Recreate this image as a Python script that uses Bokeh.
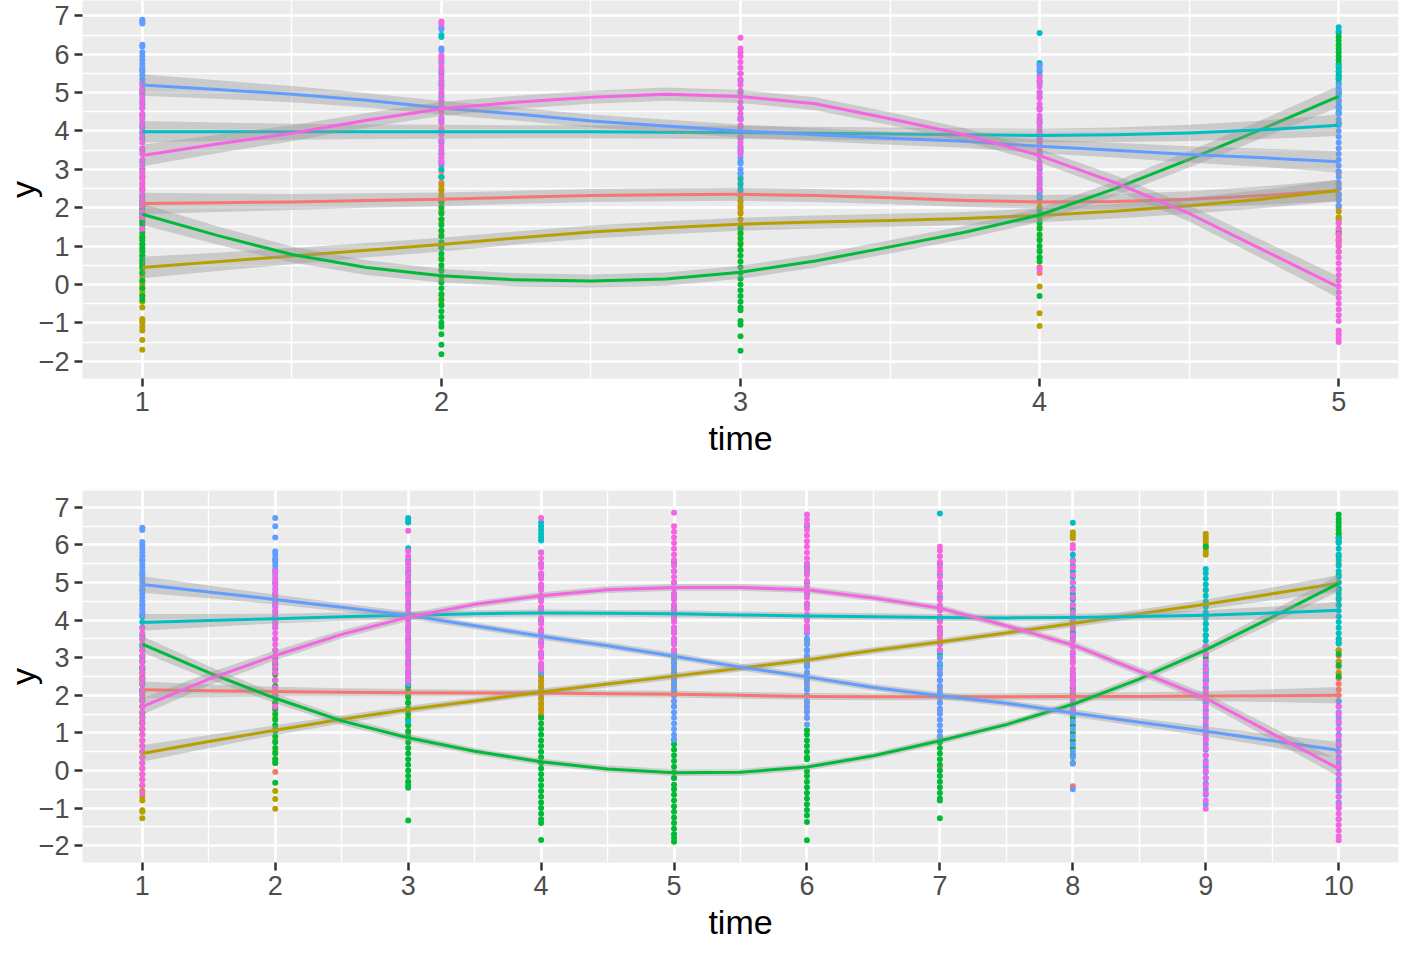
from bokeh.plotting import figure
from bokeh.layouts import column
from bokeh.models import FixedTicker, Range1d
from bokeh.embed import file_html
from bokeh.resources import INLINE

COLORS = ["#F8766D", "#B79F00", "#00BA38", "#00BFC4", "#619CFF", "#F564E3"]

# ---------------- top panel (time 1..5) ----------------
top_times = [1, 2, 3, 4, 5]
top_red_pts = [[2.9, 2.75, 2.6, 2.45, 2.3, 2.15, 2.0, 1.85, 1.7, 1.6],
               [3.1, 2.95, 2.8, 2.65, 2.5, 2.35, 2.2, 2.05, 1.9, 1.7, 1.4],
               [2.8, 2.65, 2.5, 2.35, 2.2, 2.05, 1.9],
               [2.6, 2.45, 2.3, 2.15, 2.0, 1.85, 0.45, 0.3],
               [2.9, 2.6, 2.3, 2.0, 1.7, 1.4, 1.2, 1.1]]
top_olive_pts = [[1.2, 1.05, 0.9, 0.75, 0.6, 0.5, 0.4, 0.3, 0.2, 0.1, 0.0, -0.1, -0.2, -0.3, -0.45, -0.6, -0.9, -0.95, -1.0, -1.1, -1.2, -1.45, -1.7],
                 [2.8, 2.6, 2.45, 2.3, 2.15, 1.9, 1.6, 1.3, 1.0, 0.7, 0.4, 0.1, -0.3, -0.5],
                 [2.3, 2.15, 2.0, 1.85, 1.7, 1.55, 1.45, 1.3, 1.1, 0.9],
                 [2.3, 2.15, 2.0, 1.85, 1.7, 1.5, 1.2, 0.9, 0.7, -0.05, -0.75, -1.08],
                 [2.5, 2.35, 2.2, 2.05, 1.9, 1.75, 1.6, 1.45, 1.3, 1.15, 1.0, 0.85]]
top_green_pts = [[2.2, 2.05, 1.95, 1.85, 1.75, 1.65, 1.55, 1.45, 1.35, 1.25, 1.15, 1.05, 0.95, 0.85, 0.75, 0.65, 0.55, 0.45, 0.3, 0.1, -0.1, -0.3, -0.4],
                 [2.15, 2.0, 1.85, 1.7, 1.55, 1.4, 1.25, 1.1, 0.95, 0.8, 0.65, 0.5, 0.35, 0.2, 0.05, -0.1, -0.25, -0.4, -0.55, -0.7, -0.85, -1.0, -1.1, -1.3, -1.57, -1.82],
                 [1.47, 1.35, 1.2, 1.05, 0.9, 0.75, 0.6, 0.45, 0.3, 0.15, 0.0, -0.15, -0.3, -0.45, -0.6, -0.67, -0.95, -1.05, -1.35, -1.73],
                 [1.9, 1.75, 1.6, 1.45, 1.3, 1.15, 1.0, 0.85, 0.7, 0.6, -0.3],
                 [6.55, 6.45, 6.35, 6.25, 6.15, 6.05, 5.95, 5.85, 5.75, 5.65, 5.55, 5.45, 5.35, 5.0, 4.6, 4.2, 1.35]]
top_cyan_pts = [[5.6, 5.0, 4.7, 4.4, 4.1, 3.95, 3.8, 3.5, 3.2, 3.0, 2.8, 2.5, 2.3, 2.1, 1.9],
                [6.5, 6.45, 5.8, 5.5, 5.2, 4.9, 4.6, 4.3, 4.0, 3.7, 3.4, 3.2, 3.0, 2.8],
                [5.5, 5.0, 4.6, 4.3, 4.0, 3.8, 3.5, 3.2, 2.9, 2.75, 2.6, 2.45],
                [6.55, 5.77, 5.7, 5.55, 5.3, 5.0, 4.6, 4.2, 3.8, 3.4, 3.0, 2.7, 2.4, 2.2],
                [6.7, 6.6, 5.7, 5.55, 5.4, 5.25, 5.1, 4.95, 4.8, 4.65, 4.5, 4.45]]
top_blue_pts = [[6.9, 6.85, 6.8, 6.25, 6.2, 6.05, 5.95, 5.85, 5.75, 5.65, 5.55, 5.45, 5.35, 5.25, 5.1, 4.95, 4.8, 4.6, 4.4, 4.2],
                [6.7, 6.65, 6.15, 6.1, 5.9, 5.6, 5.3, 5.0, 4.75, 4.5, 4.25, 4.0, 3.75, 3.5, 3.3, 3.15],
                [5.3, 4.9, 4.6, 4.35, 4.1, 3.85, 3.6, 3.45, 3.3, 3.15, 3.0, 2.9],
                [5.7, 5.6, 5.45, 5.25, 4.9, 4.6, 4.3, 4.0, 3.7, 3.4, 3.1, 2.8, 2.5, 2.3],
                [5.2, 5.05, 4.9, 4.75, 4.6, 4.45, 4.3, 4.15, 4.0, 3.85, 3.7, 3.55, 3.4, 3.25, 3.1, 2.95, 2.8, 2.65, 2.5, 2.35, 2.2, 2.05]]
top_magenta_pts = [[5.2, 5.05, 4.9, 4.75, 4.6, 4.45, 4.3, 4.15, 4.0, 3.85, 3.7, 3.55, 3.4, 3.25, 3.1, 2.95, 2.8, 2.65, 2.5, 2.35, 2.2, 2.05, 1.9, 1.75, 1.45],
                   [6.85, 6.8, 5.97, 5.85, 5.7, 5.55, 5.4, 5.25, 5.1, 4.95, 4.8, 4.65, 4.5, 4.35, 4.2, 4.05, 3.9, 3.75, 3.6, 3.45, 3.3, 3.2],
                   [6.43, 6.15, 6.05, 5.95, 5.8, 5.65, 5.5, 5.35, 5.2, 5.05, 4.9, 4.75, 4.6, 4.45, 4.3, 4.15, 4.0, 3.85, 3.7, 3.55, 3.4],
                   [5.4, 5.3, 5.15, 5.0, 4.85, 4.7, 4.55, 4.4, 4.25, 4.1, 3.95, 3.8, 3.65, 3.5, 3.35, 3.2, 3.05, 2.9, 2.75, 2.6, 2.45, 0.4],
                   [1.6, 1.45, 1.3, 1.15, 1.0, 0.85, 0.7, 0.55, 0.4, 0.25, 0.1, -0.05, -0.2, -0.35, -0.5, -0.65, -0.8, -0.95, -1.2, -1.3, -1.4, -1.5]]

top_grid = [1.0, 1.25, 1.5, 1.75, 2.0, 2.25, 2.5, 2.75, 3.0, 3.25, 3.5, 3.75, 4.0, 4.25, 4.5, 4.75, 5.0]
top_red_fit = [2.11, 2.13, 2.15, 2.19, 2.22, 2.27, 2.32, 2.34, 2.35, 2.32, 2.26, 2.19, 2.15, 2.16, 2.22, 2.32, 2.45]
top_olive_fit = [0.44, 0.59, 0.74, 0.89, 1.04, 1.21, 1.37, 1.48, 1.57, 1.63, 1.67, 1.72, 1.80, 1.91, 2.05, 2.23, 2.45]
top_green_fit = [1.83, 1.28, 0.78, 0.44, 0.23, 0.12, 0.09, 0.14, 0.32, 0.61, 0.98, 1.36, 1.81, 2.49, 3.26, 4.07, 4.90]
top_cyan_fit = [3.98, 3.98, 3.98, 3.98, 3.98, 3.98, 3.98, 3.97, 3.96, 3.94, 3.92, 3.90, 3.88, 3.90, 3.95, 4.03, 4.15]
top_blue_fit = [5.20, 5.08, 4.96, 4.80, 4.60, 4.44, 4.26, 4.13, 4.00, 3.90, 3.81, 3.73, 3.60, 3.50, 3.39, 3.30, 3.20]
top_magenta_fit = [3.36, 3.66, 3.94, 4.28, 4.58, 4.75, 4.88, 4.96, 4.90, 4.71, 4.32, 3.90, 3.36, 2.66, 1.85, 0.89, -0.07]
top_band = [0.28, 0.24, 0.21, 0.19, 0.18, 0.17, 0.17, 0.17, 0.17, 0.17, 0.17, 0.17, 0.18, 0.19, 0.21, 0.24, 0.28]

# ---------------- bottom panel (time 1..10) ----------------
bot_times = [1, 2, 3, 4, 5, 6, 7, 8, 9, 10]
bot_red_pts = [[2.9, 2.7, 2.5, 2.3, 2.1, 1.9, 1.7, 1.5, 1.3],
               [2.8, 2.6, 2.4, 2.2, 2.0, 1.8, 1.6, -0.04],
               [2.8, 2.6, 2.4, 2.2, 2.0, 1.8, -0.3],
               [2.7, 2.55, 2.4, 2.25, 2.1, 1.95, 1.8, 1.65, 1.5, 1.4],
               [2.6, 2.45, 2.3, 2.15, 2.0, 1.85, 1.7, -0.2],
               [2.8, 2.6, 2.4, 2.2, 2.0, 1.8, 1.6, 1.4],
               [2.6, 2.4, 2.2, 2.0, 1.8, 1.6, 0.1],
               [2.6, 2.4, 2.2, 2.0, 1.8, 1.6, -0.42],
               [2.6, 2.4, 2.2, 2.0, 1.8, 1.6, 1.4],
               [3.2, 3.05, 2.9, 2.75, 2.6, 2.45, 2.3, 2.15, 2.0, 1.84]]
bot_olive_pts = [[1.1, 0.95, 0.8, 0.65, 0.5, 0.35, 0.2, 0.05, -0.1, -0.25, -0.4, -0.55, -0.7, -0.8, -1.06, -1.1, -1.27],
                 [2.0, 1.7, 1.4, 1.1, 0.8, 0.5, 0.3, 0.2, -0.55, -0.76, -1.02],
                 [2.4, 2.2, 2.0, 1.8, 1.6, 1.4, 1.2, 1.0],
                 [2.68, 2.5, 2.35, 2.2, 2.05, 1.9, 1.75, 1.6, 1.45],
                 [3.0, 2.85, 2.7, 2.55, 2.4, 2.25, 2.1],
                 [3.4, 3.2, 3.0, 2.8, 2.6, 2.4],
                 [4.0, 3.8, 3.6, 3.4, 3.2, 3.0, 2.8],
                 [6.34, 6.26, 6.18, 4.6, 4.3, 4.0, 3.7],
                 [6.3, 6.22, 6.14, 6.06, 5.98, 5.9, 5.82, 5.74, 4.8, 4.4],
                 [6.3, 6.2, 6.1, 5.5, 5.0, 4.6, 3.5, 3.2, 2.9, 2.6]]
bot_green_pts = [[3.5, 3.35, 3.2, 3.05, 2.9, 2.75, 2.6, 2.45, 2.3, 2.15, 2.0, 1.85, 1.7, 1.55, 1.4, 1.25, 1.1],
                 [3.0, 2.85, 2.7, 2.55, 2.4, 2.25, 2.1, 1.95, 1.8, 1.65, 1.5, 1.35, 1.2, 1.05, 0.9, 0.75, 0.6, 0.45, 0.3, 0.2, -0.33],
                 [2.26, 2.1, 1.95, 1.8, 1.65, 1.5, 1.35, 1.2, 1.05, 0.9, 0.75, 0.6, 0.45, 0.3, 0.15, 0.0, -0.15, -0.3, -0.4, -0.46, -1.33],
                 [1.4, 1.25, 1.1, 0.95, 0.8, 0.65, 0.5, 0.35, 0.2, 0.05, -0.1, -0.25, -0.4, -0.55, -0.7, -0.85, -1.0, -1.15, -1.3, -1.4, -1.85],
                 [0.82, 0.7, 0.55, 0.4, 0.25, 0.1, -0.05, -0.2, -0.38, -0.5, -0.65, -0.8, -0.95, -1.1, -1.25, -1.4, -1.55, -1.7, -1.8, -1.9],
                 [1.07, 0.95, 0.8, 0.65, 0.5, 0.35, 0.3, -0.02, -0.15, -0.3, -0.45, -0.6, -0.75, -0.9, -1.05, -1.2, -1.37, -1.86],
                 [0.9, 0.75, 0.6, 0.45, 0.3, 0.15, 0.0, -0.15, -0.3, -0.45, -0.6, -0.75, -0.8, -1.27],
                 [2.4, 2.2, 2.0, 1.8, 1.6, 1.4, 1.2, 1.0, 0.8, 0.6, 0.4, 0.2],
                 [5.95, 3.9, 3.6, 3.3, 3.0, 2.7, 2.4],
                 [6.81, 6.7, 6.6, 6.5, 6.4, 6.3, 6.2, 6.08, 5.7, 5.2, 4.8, 4.4, 3.4, 3.1, 2.8, 2.5]]
bot_cyan_pts = [[5.6, 5.2, 4.8, 4.4, 4.1, 3.95, 3.8, 3.6, 3.3, 3.0, 2.7, 2.4, 2.1],
                [5.6, 5.3, 5.0, 4.7, 4.4, 4.1, 3.8, 3.5, 3.2],
                [6.72, 6.65, 6.6, 5.91, 5.6, 5.3, 5.0, 4.7, 4.4, 4.1, 3.8, 3.5, 3.2, 2.9, 2.6, 2.4, 1.3],
                [6.6, 6.5, 6.4, 6.3, 6.2, 6.12, 5.8, 5.5, 5.2, 4.9, 4.6, 4.3, 4.0, 3.7, 3.4, 3.1, 2.8],
                [5.54, 5.3, 5.0, 4.7, 4.4, 4.1, 3.8, 3.5, 3.2, 2.9],
                [6.5, 5.5, 5.4, 5.3, 5.0, 4.7, 4.4, 4.1, 3.8, 3.5, 3.2, 2.9],
                [6.84, 5.5, 5.2, 4.9, 4.6, 4.3, 4.0, 3.7, 3.4, 3.1, 2.8],
                [6.59, 5.74, 5.6, 5.45, 5.3, 5.15, 5.0, 4.85, 4.7, 4.55, 4.4, 4.25, 4.1, 3.95, 3.8, 3.65, 3.53],
                [5.36, 5.25, 5.1, 4.95, 4.8, 4.65, 4.5, 4.35, 4.2, 4.05, 3.9, 3.75, 3.6, 3.45, 3.3, 3.1, 2.9, 2.7, 2.5],
                [6.17, 6.05, 5.9, 5.75, 5.6, 5.45, 5.3, 5.15, 5.0, 4.85, 4.7, 4.55, 4.4, 4.25, 4.1, 3.95, 3.8, 3.65, 3.5, 3.37]]
bot_blue_pts = [[6.46, 6.4, 6.08, 6.0, 5.9, 5.8, 5.7, 5.6, 5.5, 5.4, 5.3, 5.2, 5.1, 5.0, 4.9, 4.8, 4.7, 4.6, 4.5, 4.4, 4.3, 4.2, 4.13],
                [6.72, 6.5, 6.2, 5.83, 5.75, 5.65, 5.55, 5.45, 5.35, 5.23, 5.1, 4.95, 4.8, 4.65, 4.5, 4.35, 4.2, 4.05, 3.9],
                [5.5, 5.2, 4.9, 4.6, 4.3, 4.0, 3.7, 3.4, 3.1, 2.8, 2.5, 2.3],
                [5.2, 4.9, 4.6, 4.3, 4.0, 3.7, 3.4, 3.1, 2.8, 2.6],
                [4.6, 4.3, 4.0, 3.7, 3.4, 3.1, 2.9, 2.75, 2.6, 2.45, 2.3, 2.15, 2.0, 1.84, 1.7, 1.55, 1.4, 1.25, 1.1, 0.95, 0.82],
                [4.0, 3.8, 3.65, 3.5, 3.35, 3.2, 3.05, 2.9, 2.75, 2.6, 2.45, 2.3, 2.15, 2.0, 1.85, 1.7, 1.55, 1.4, 1.22],
                [3.4, 3.2, 3.0, 2.85, 2.7, 2.55, 2.4, 2.25, 2.1, 1.95, 1.8, 1.65, 1.5, 1.35, 1.2, 1.05, 0.9],
                [3.3, 3.1, 2.9, 2.7, 2.5, 2.3, 2.1, 1.9, 1.7, 1.5, 1.3, 1.1, 0.9, 0.7, 0.5, 0.35, 0.18, -0.5],
                [2.8, 2.6, 2.4, 2.2, 2.0, 1.8, 1.6, 1.4, 1.2, 1.0, 0.85, 0.7, 0.55, 0.4, 0.25, 0.1, -0.05, -0.2, -0.35, -0.5, -0.65, -0.9],
                [1.84, 1.7, 1.55, 1.4, 1.25, 1.1, 0.95, 0.8, 0.65, 0.5, 0.35, 0.2, 0.05, -0.1, -0.25, -0.4, -0.55, -0.7, -0.85, -1.0, -1.3]]
bot_magenta_pts = [[3.79, 3.65, 3.5, 3.35, 3.2, 3.05, 2.9, 2.75, 2.6, 2.45, 2.3, 2.15, 2.0, 1.85, 1.7, 1.55, 1.4, 1.25, 1.1, 0.95, 0.8, 0.65, 0.5, 0.35, 0.2, 0.05, -0.1, -0.25, -0.4, -0.6],
                   [5.3, 5.15, 5.0, 4.85, 4.7, 4.55, 4.4, 4.25, 4.1, 3.95, 3.8, 3.65, 3.5, 3.35, 3.2, 3.05, 2.9, 2.75, 2.6, 2.4, 2.2, 2.0, 1.7],
                   [6.38, 5.83, 5.7, 5.55, 5.4, 5.25, 5.1, 4.95, 4.8, 4.65, 4.5, 4.35, 4.2, 4.05, 3.9, 3.75, 3.6, 3.45, 3.3, 3.15, 3.0, 2.85, 2.7, 2.55, 2.4],
                   [6.72, 5.8, 5.65, 5.5, 5.4, 5.25, 5.1, 4.95, 4.8, 4.65, 4.5, 4.35, 4.2, 4.05, 3.9, 3.75, 3.6, 3.45, 3.3, 3.15, 3.0, 2.85, 2.7],
                   [6.86, 6.5, 6.35, 6.2, 6.05, 5.9, 5.75, 5.6, 5.45, 5.3, 5.15, 5.0, 4.85, 4.7, 4.55, 4.4, 4.25, 4.1, 3.95, 3.8, 3.65, 3.5, 3.35, 3.2],
                   [6.81, 6.68, 6.55, 6.4, 6.25, 6.1, 5.95, 5.8, 5.65, 5.5, 5.35, 5.2, 5.05, 4.9, 4.75, 4.6, 4.45, 4.3, 4.15, 4.0, 3.85, 3.7],
                   [5.95, 5.85, 5.7, 5.55, 5.4, 5.3, 5.15, 5.0, 4.85, 4.7, 4.55, 4.4, 4.25, 4.1, 3.95, 3.8, 3.65, 3.5, 3.35, 3.2],
                   [6.0, 5.9, 5.57, 5.4, 5.2, 5.0, 4.8, 4.6, 4.4, 4.2, 4.0, 3.8, 3.6, 3.45, 3.3, 3.15, 3.0, 2.85, 2.7, 2.55, 2.4, 2.25, 2.1, 1.95, 1.8, 1.6],
                   [3.3, 3.1, 2.9, 2.7, 2.5, 2.3, 2.1, 1.9, 1.7, 1.5, 1.3, 1.1, 0.95, 0.8, 0.6, 0.4, 0.2, 0.0, -0.2, -0.4, -0.6, -0.8, -1.02],
                   [1.7, 1.5, 1.3, 1.1, 0.9, 0.7, 0.5, 0.3, 0.1, -0.1, -0.3, -0.5, -0.7, -0.9, -1.0, -1.15, -1.3, -1.45, -1.6, -1.75, -1.86]]

bot_grid = [1.0, 1.5, 2.0, 2.5, 3.0, 3.5, 4.0, 4.5, 5.0, 5.5, 6.0, 6.5, 7.0, 7.5, 8.0, 8.5, 9.0, 9.5, 10.0]
bot_red_fit = [2.15, 2.12, 2.10, 2.08, 2.07, 2.06, 2.06, 2.04, 2.03, 2.00, 1.97, 1.96, 1.96, 1.96, 1.97, 1.97, 1.98, 1.99, 2.00]
bot_olive_fit = [0.45, 0.77, 1.07, 1.36, 1.62, 1.85, 2.09, 2.30, 2.51, 2.72, 2.94, 3.19, 3.42, 3.66, 3.91, 4.17, 4.42, 4.70, 4.98]
bot_green_fit = [3.36, 2.60, 1.92, 1.32, 0.87, 0.51, 0.23, 0.04, -0.06, -0.05, 0.09, 0.39, 0.79, 1.22, 1.76, 2.43, 3.21, 4.08, 4.98]
bot_cyan_fit = [3.94, 3.99, 4.04, 4.09, 4.13, 4.17, 4.19, 4.18, 4.17, 4.14, 4.11, 4.09, 4.07, 4.06, 4.07, 4.10, 4.13, 4.19, 4.26]
bot_blue_fit = [4.95, 4.75, 4.55, 4.34, 4.13, 3.85, 3.57, 3.32, 3.04, 2.75, 2.49, 2.21, 1.99, 1.79, 1.53, 1.28, 1.04, 0.79, 0.54]
bot_magenta_fit = [1.70, 2.43, 3.06, 3.62, 4.08, 4.42, 4.65, 4.81, 4.87, 4.87, 4.81, 4.59, 4.32, 3.85, 3.34, 2.64, 1.92, 0.98, 0.05]
bot_band = [0.22, 0.17, 0.13, 0.11, 0.10, 0.09, 0.09, 0.09, 0.09, 0.09, 0.09, 0.09, 0.09, 0.09, 0.10, 0.11, 0.13, 0.17, 0.22]

y_ticks = [-2, -1, 0, 1, 2, 3, 4, 5, 6, 7]
y_minor = [-2.5, -1.5, -0.5, 0.5, 1.5, 2.5, 3.5, 4.5, 5.5, 6.5, 7.5]
top_x_minor = [1.5, 2.5, 3.5, 4.5]
bot_x_minor = [1.5, 2.5, 3.5, 4.5, 5.5, 6.5, 7.5, 8.5, 9.5]

FONT = "Liberation Sans"


def make_panel(times, pts, fits, grid, band, x_minor, xr, yr, height, btop, bbot):
    p = figure(width=1400, height=height, x_range=Range1d(*xr), y_range=Range1d(*yr),
               output_backend="svg", toolbar_location=None,
               min_border_left=76, min_border_right=2, min_border_top=btop, min_border_bottom=bbot)
    p.background_fill_color = "#EBEBEB"
    p.border_fill_color = "white"
    p.outline_line_color = None

    p.xaxis.ticker = FixedTicker(ticks=list(times), minor_ticks=x_minor)
    p.yaxis.ticker = FixedTicker(ticks=y_ticks, minor_ticks=y_minor)
    p.yaxis.major_label_overrides = {-2: "\u22122", -1: "\u22121"}

    for ax in (p.xaxis[0], p.yaxis[0]):
        ax.axis_line_color = None
        ax.major_tick_line_color = "#333333"
        ax.major_tick_line_width = 2.5
        ax.major_tick_out = 8
        ax.major_tick_in = 0
        ax.minor_tick_line_color = None
        ax.major_label_text_font = FONT
        ax.major_label_text_font_size = "27px"
        ax.major_label_text_color = "#4D4D4D"
        ax.major_label_standoff = 5
        ax.axis_label_text_font = FONT
        ax.axis_label_text_font_size = "34px"
        ax.axis_label_text_font_style = "normal"
        ax.axis_label_text_color = "black"
    p.xaxis.axis_label = "time"
    p.yaxis.axis_label = "y"
    p.xaxis.axis_label_standoff = 5
    p.yaxis.axis_label_standoff = -6

    for g in (p.xgrid, p.ygrid):
        g.grid_line_color = "white"
        g.grid_line_width = 2.6
        g.minor_grid_line_color = "white"
        g.minor_grid_line_width = 1.4

    # raw points
    for col, gp in zip(COLORS, pts):
        xs, ys = [], []
        for t, vals in zip(times, gp):
            xs += [t] * len(vals)
            ys += vals
        p.scatter(xs, ys, size=6, fill_color=col, line_color=None)

    # smooth fits with confidence bands
    for col, fit in zip(COLORS, fits):
        lo = [f - b for f, b in zip(fit, band)]
        hi = [f + b for f, b in zip(fit, band)]
        p.varea(x=grid, y1=lo, y2=hi, fill_color="#999999", fill_alpha=0.4)
        p.line(grid, fit, line_color=col, line_width=3, line_join="round")
    return p


top = make_panel(top_times,
                 [top_red_pts, top_olive_pts, top_green_pts, top_cyan_pts, top_blue_pts, top_magenta_pts],
                 [top_red_fit, top_olive_fit, top_green_fit, top_cyan_fit, top_blue_fit, top_magenta_fit],
                 top_grid, top_band, top_x_minor, (0.8, 5.2), (-2.45, 7.4), 484, 0, 106)
bot = make_panel(bot_times,
                 [bot_red_pts, bot_olive_pts, bot_green_pts, bot_cyan_pts, bot_blue_pts, bot_magenta_pts],
                 [bot_red_fit, bot_olive_fit, bot_green_fit, bot_cyan_fit, bot_blue_fit, bot_magenta_fit],
                 bot_grid, bot_band, bot_x_minor, (0.55, 10.45), (-2.45, 7.45), 470, 6, 92)

layout = column(top, bot)
open("out.html", "w").write(file_html(layout, INLINE))
